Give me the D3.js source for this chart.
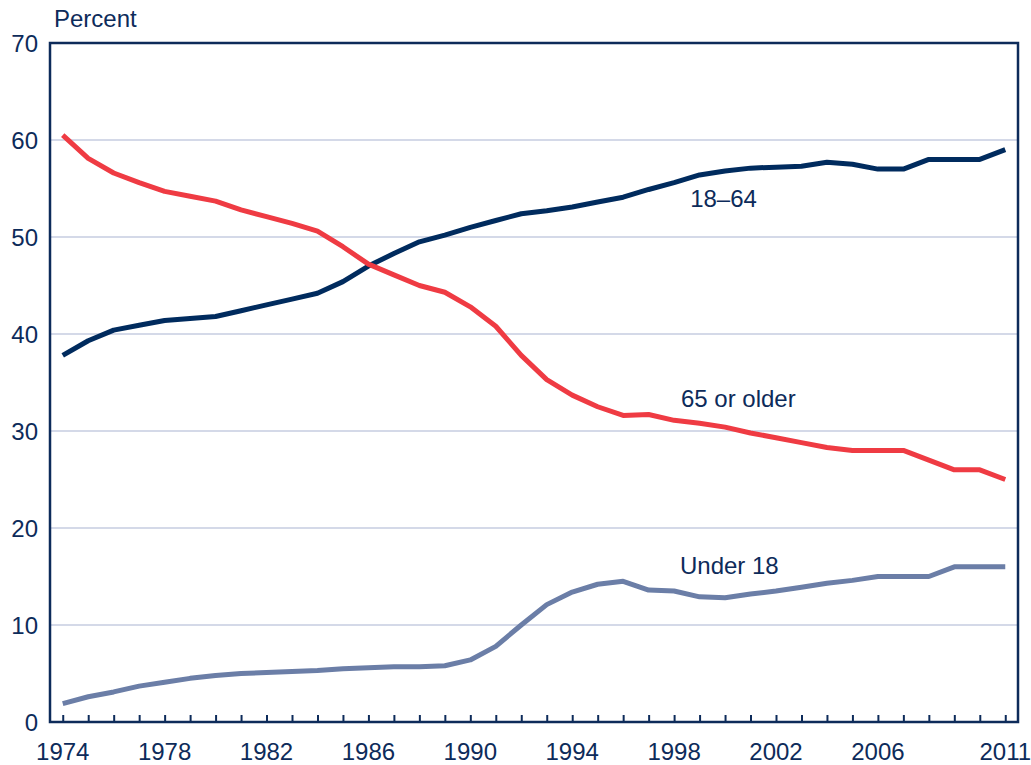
<!DOCTYPE html>
<html>
<head>
<meta charset="utf-8">
<script src="https://cdn.jsdelivr.net/npm/d3@7"></script>
<style>
  body { margin: 0; background: #fff; }
  svg text { font-family: "Liberation Sans", Arial, sans-serif; fill: #0d2b5a; }
</style>
</head>
<body>
<svg id="chart"></svg>
<script>
const years = d3.range(1974, 2012)

const age18to64 = [37.8, 39.3, 40.4, 40.9, 41.4, 41.6, 41.8, 42.4, 43.0, 43.6,
  44.2, 45.4, 47.0, 48.3, 49.5, 50.2, 51.0, 51.7, 52.4, 52.7,
  53.1, 53.6, 54.1, 54.9, 55.6, 56.4, 56.8, 57.1, 57.2, 57.3,
  57.7, 57.5, 57.0, 57.0, 58.0, 58.0, 58.0, 59.0]

const age65plus = [60.5, 58.1, 56.6, 55.6, 54.7, 54.2, 53.7, 52.8, 52.1, 51.4,
  50.6, 49.0, 47.2, 46.1, 45.0, 44.3, 42.8, 40.8, 37.8, 35.3,
  33.7, 32.5, 31.6, 31.7, 31.1, 30.8, 30.4, 29.8, 29.3, 28.8,
  28.3, 28.0, 28.0, 28.0, 27.0, 26.0, 26.0, 25.0]

const under18 = [1.9, 2.6, 3.1, 3.7, 4.1, 4.5, 4.8, 5.0, 5.1, 5.2,
  5.3, 5.5, 5.6, 5.7, 5.7, 5.8, 6.4, 7.8, 10.0, 12.1,
  13.4, 14.2, 14.5, 13.6, 13.5, 12.9, 12.8, 13.2, 13.5, 13.9,
  14.3, 14.6, 15.0, 15.0, 15.0, 16.0, 16.0, 16.0]

const yTicks = [0, 10, 20, 30, 40, 50, 60, 70]
const xLabels = [1974, 1978, 1982, 1986, 1990, 1994, 1998, 2002, 2006, 2011]

const series = [
  { name: '18–64', values: age18to64, color: '#002b5e', labelYear: 1998.63, labelValue: 53.1 },
  { name: '65 or older', values: age65plus, color: '#ef3b43', labelYear: 1998.27, labelValue: 32.5 },
  { name: 'Under 18', values: under18, color: '#6b7ea7', labelYear: 1998.23, labelValue: 15.25 }
]

const width = 1031
const height = 765
const margin = { top: 43, right: 13, bottom: 43, left: 50 }
const fontSize = '24px'

const svg = d3.select('#chart')
  .attr('width', width)
  .attr('height', height)

const x = d3.scaleLinear()
  .domain([1973.5, 2011.5])
  .range([margin.left, width - margin.right])

const y = d3.scaleLinear()
  .domain([0, 70])
  .range([height - margin.bottom, margin.top])

// grid lines
svg.append('g')
  .selectAll('line')
  .data(yTicks.filter(d => d > 0 && d < 70))
  .join('line')
  .attr('x1', x.range()[0])
  .attr('x2', x.range()[1])
  .attr('y1', d => y(d))
  .attr('y2', d => y(d))
  .attr('stroke', '#c6cce0')
  .attr('stroke-width', 1.5)

// y axis labels
svg.append('g')
  .selectAll('text')
  .data(yTicks)
  .join('text')
  .attr('x', 38)
  .attr('y', d => y(d))
  .attr('dy', '0.36em')
  .attr('text-anchor', 'end')
  .attr('font-size', fontSize)
  .text(d => d)

svg.append('text')
  .attr('x', 54)
  .attr('y', 27)
  .attr('font-size', fontSize)
  .text('Percent')

// x axis: tick every year, labels on selected years
const xAxis = d3.axisBottom(x)
  .tickValues(years)
  .tickSize(-7)
  .tickFormat('')

svg.append('g')
  .attr('transform', `translate(0,${y(0)})`)
  .call(xAxis)
  .call(g => g.select('.domain').remove())
  .call(g => g.selectAll('.tick line').attr('stroke', '#0d2b5a').attr('stroke-width', 2))

svg.append('g')
  .selectAll('text')
  .data(xLabels)
  .join('text')
  .attr('x', d => x(d))
  .attr('y', 760)
  .attr('text-anchor', 'middle')
  .attr('font-size', fontSize)
  .text(d => d)

// series lines
const line = d3.line()
  .x((d, i) => x(years[i]))
  .y(d => y(d))

svg.append('g')
  .selectAll('path')
  .data(series)
  .join('path')
  .attr('d', d => line(d.values))
  .attr('fill', 'none')
  .attr('stroke', d => d.color)
  .attr('stroke-width', 5)
  .attr('stroke-linejoin', 'round')

svg.append('g')
  .selectAll('text')
  .data(series)
  .join('text')
  .attr('x', d => x(d.labelYear))
  .attr('y', d => y(d.labelValue))
  .attr('font-size', fontSize)
  .text(d => d.name)

// frame
svg.append('rect')
  .attr('x', x.range()[0])
  .attr('y', y.range()[1])
  .attr('width', x.range()[1] - x.range()[0])
  .attr('height', y.range()[0] - y.range()[1])
  .attr('fill', 'none')
  .attr('stroke', '#0d2b5a')
  .attr('stroke-width', 2.5)
</script>
</body>
</html>
